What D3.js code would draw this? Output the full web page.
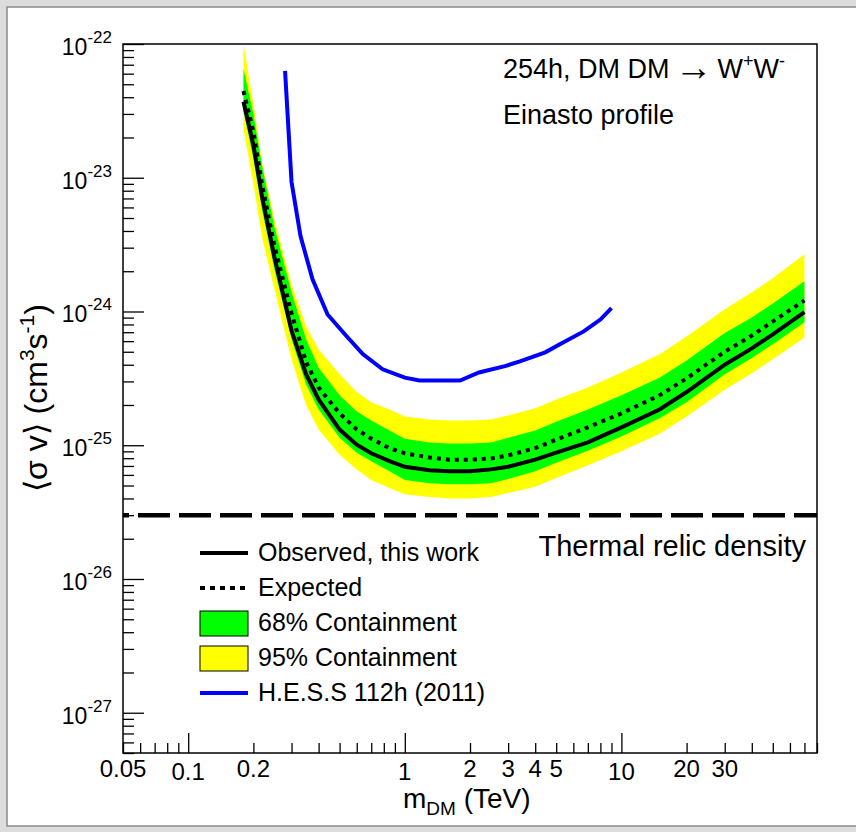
<!DOCTYPE html>
<html>
<head>
<meta charset="utf-8">
<script src="https://cdn.jsdelivr.net/npm/d3@7"></script>
<style>
  html, body { margin: 0; padding: 0; background: #dcdcdc; }
  svg { display: block; }
  text { font-family: "Liberation Sans", Arial, Helvetica, sans-serif; fill: #000; }
</style>
</head>
<body>
<svg id="chart" width="856" height="832"></svg>
<script>
// DM mass grid (TeV) for the limit curves
const mass = [0.18, 0.2, 0.22, 0.25, 0.3, 0.35, 0.4, 0.5, 0.6, 0.7, 0.85, 1, 1.3, 1.6, 2, 2.5, 3, 4, 5, 7, 10, 15, 20, 30, 40, 50, 70];
// observed limit, this work (cm^3 s^-1)
const observed = [3.7e-23, 1.75e-23, 7.0e-24, 2.55e-24, 7.2e-25, 3.4e-25, 2.2e-25, 1.31e-25, 1.01e-25, 8.7e-26, 7.6e-26, 6.9e-26, 6.5e-26, 6.4e-26, 6.4e-26, 6.6e-26, 6.9e-26, 7.8e-26, 8.8e-26, 1.05e-25, 1.36e-25, 1.85e-25, 2.5e-25, 4.0e-25, 5.3e-25, 6.75e-25, 9.9e-25];
const expected = [4.45e-23, 2.2e-23, 8.65e-24, 3.1e-24, 9.7e-25, 4.2e-25, 2.7e-25, 1.73e-25, 1.31e-25, 1.12e-25, 9.5e-26, 8.7e-26, 8.1e-26, 7.8e-26, 7.8e-26, 7.95e-26, 8.4e-26, 9.5e-26, 1.1e-25, 1.36e-25, 1.73e-25, 2.36e-25, 3.16e-25, 5.0e-25, 6.6e-25, 8.4e-25, 1.21e-24];
// 68% containment band
const green68Top = [6.5e-23, 3.0e-23, 1.2e-23, 4.3e-24, 1.39e-24, 6.2e-25, 3.8e-25, 2.36e-25, 1.79e-25, 1.53e-25, 1.29e-25, 1.12e-25, 1.05e-25, 1.03e-25, 1.03e-25, 1.05e-25, 1.14e-25, 1.29e-25, 1.5e-25, 1.85e-25, 2.36e-25, 3.2e-25, 4.3e-25, 6.9e-25, 9.0e-25, 1.15e-24, 1.68e-24];
const green68Bottom = [3.15e-23, 1.38e-23, 5.6e-24, 2.07e-24, 6.2e-25, 2.85e-25, 1.85e-25, 1.14e-25, 8.8e-26, 7.6e-26, 6.4e-26, 5.5e-26, 5.2e-26, 5.1e-26, 5.1e-26, 5.2e-26, 5.6e-26, 6.4e-26, 7.4e-26, 9.1e-26, 1.16e-25, 1.59e-25, 2.1e-25, 3.4e-25, 4.5e-25, 5.7e-25, 8.3e-25];
// 95% containment band
const yellow95Top = [1e-22, 3.56e-23, 1.26e-23, 4.9e-24, 1.6e-24, 7.75e-25, 5.2e-25, 3.4e-25, 2.5e-25, 2.1e-25, 1.85e-25, 1.64e-25, 1.56e-25, 1.53e-25, 1.53e-25, 1.56e-25, 1.67e-25, 1.89e-25, 2.2e-25, 2.7e-25, 3.5e-25, 4.8e-25, 6.5e-25, 1.04e-24, 1.39e-24, 1.77e-24, 2.68e-24];
const yellow95Bottom = [2.3e-23, 9.0e-24, 3.5e-24, 1.47e-24, 4.4e-25, 2.0e-25, 1.31e-25, 8.5e-26, 6.6e-26, 5.5e-26, 4.8e-26, 4.3e-26, 4.1e-26, 4.0e-26, 4.0e-26, 4.1e-26, 4.4e-26, 4.9e-26, 5.7e-26, 7.1e-26, 9.0e-26, 1.22e-25, 1.64e-25, 2.6e-25, 3.45e-25, 4.4e-25, 6.4e-25];
// H.E.S.S 112h (2011)
const hessMass = [0.28, 0.30, 0.33, 0.375, 0.44, 0.54, 0.64, 0.79, 1.0, 1.17, 1.8, 2.2, 2.9, 3.4, 4.45, 5.2, 6.7, 8.0, 9.0];
const hessLimit = [6.3e-23, 9.3e-24, 3.66e-24, 1.74e-24, 9.5e-25, 6.5e-25, 4.8e-25, 3.7e-25, 3.2e-25, 3.05e-25, 3.05e-25, 3.5e-25, 3.9e-25, 4.24e-25, 4.95e-25, 5.7e-25, 7.1e-25, 8.7e-25, 1.06e-24];
const thermalRelic = 3e-26;

const xTickLabels = [0.05, 0.1, 0.2, 1, 2, 3, 4, 5, 10, 20, 30];
const yDecades = [-27, -26, -25, -24, -23, -22];

const svg = d3.select('#chart');
const L = 123, R = 817, T = 44, B = 753;

// canvas panel
svg.append('rect').attr('x', 0).attr('y', 0).attr('width', 856).attr('height', 832).attr('fill', '#dcdcdc');
svg.append('rect').attr('x', 7).attr('y', 7).attr('width', 860).attr('height', 819)
  .attr('fill', '#fff').attr('stroke', '#8a8a8a').attr('stroke-width', 1.5);

const x = d3.scaleLog().domain([0.05, 80]).range([L, R]);
const y = d3.scaleLog().domain([5e-28, 1e-22]).range([B, T]);

svg.append('clipPath').attr('id', 'clip')
  .append('rect').attr('x', L).attr('y', T).attr('width', R - L).attr('height', B - T);
const plot = svg.append('g').attr('clip-path', 'url(#clip)');

const idx = d3.range(mass.length);
const bandArea = (lo, hi) => d3.area().x(i => x(mass[i])).y0(i => y(lo[i])).y1(i => y(hi[i]));

plot.append('path').datum(idx).attr('d', bandArea(yellow95Bottom, yellow95Top)).attr('fill', '#ffff00');
plot.append('path').datum(idx).attr('d', bandArea(green68Bottom, green68Top)).attr('fill', '#00ff00');

// thermal relic line
plot.append('line').attr('x1', L).attr('x2', R).attr('y1', y(thermalRelic)).attr('y2', y(thermalRelic))
  .attr('stroke', '#000').attr('stroke-width', 4.5).attr('stroke-dasharray', '32,9').attr('stroke-dashoffset', 26);

const curve = (xs, ys) => d3.line().x(i => x(xs[i])).y(i => y(ys[i]));

plot.append('path').datum(idx).attr('d', curve(mass, expected))
  .attr('fill', 'none').attr('stroke', '#000').attr('stroke-width', 4).attr('stroke-dasharray', '4,5');
plot.append('path').datum(idx).attr('d', curve(mass, observed))
  .attr('fill', 'none').attr('stroke', '#000').attr('stroke-width', 4);
plot.append('path').datum(d3.range(hessMass.length)).attr('d', curve(hessMass, hessLimit))
  .attr('fill', 'none').attr('stroke', '#0000ff').attr('stroke-width', 4);

// frame
svg.append('rect').attr('x', L).attr('y', T).attr('width', R - L).attr('height', B - T)
  .attr('fill', 'none').attr('stroke', '#000').attr('stroke-width', 1.5);

// x axis ticks
const xMajor = [0.1, 1, 10];
const xMinor = [];
[0.01, 0.1, 1, 10].forEach(d => { for (let k = 2; k <= 9; k++) { const v = d * k; if (v >= 0.05 && v <= 80) xMinor.push(v); } });
const xAxis = d3.axisBottom(x).tickValues(xMinor).tickSize(10).tickFormat('');
const xAxisMaj = d3.axisBottom(x).tickValues(xMajor).tickSize(20).tickFormat('');
[xAxis, xAxisMaj].forEach(a => {
  const g = svg.append('g').attr('transform', `translate(0,${B})`).call(a);
  g.select('.domain').remove();
  g.selectAll('line').attr('y2', d => -(xMajor.includes(d) ? 20 : 10)).attr('stroke', '#000').attr('stroke-width', 1.3);
});
svg.selectAll('.xlab').data(xTickLabels).enter().append('text')
  .attr('x', d => x(d)).attr('y', d => [0.1, 1, 10].includes(d) ? 780 : 777)
  .attr('text-anchor', 'middle').style('font-size', '24px').text(d => d);

// y axis ticks
const yMajor = yDecades.map(e => Math.pow(10, e));
const yMinor = [];
[-28, -27, -26, -25, -24, -23].forEach(e => { for (let k = 2; k <= 9; k++) { const v = k * Math.pow(10, e); if (v >= 5e-28 && v < 1e-22) yMinor.push(v); } });
const yAxisMin = d3.axisLeft(y).tickValues(yMinor).tickFormat('');
const yAxisMaj = d3.axisLeft(y).tickValues(yMajor).tickFormat('');
[[yAxisMin, 11], [yAxisMaj, 21]].forEach(([a, len]) => {
  const g = svg.append('g').attr('transform', `translate(${L},0)`).call(a);
  g.select('.domain').remove();
  g.selectAll('line').attr('x2', len).attr('stroke', '#000').attr('stroke-width', 1.3);
});
const ylab = svg.selectAll('.ylab').data(yDecades).enter().append('text')
  .attr('x', 112).attr('y', e => y(Math.pow(10, e)) + 11).attr('text-anchor', 'end');
ylab.append('tspan').style('font-size', '23px').text('10');
ylab.append('tspan').style('font-size', '17px').attr('dy', -12).text(e => e);

// axis titles
const xt = svg.append('text').attr('x', 403).attr('y', 808).style('font-size', '28px');
xt.append('tspan').text('m');
xt.append('tspan').style('font-size', '19px').attr('dy', 7).text('DM');
xt.append('tspan').attr('dy', -7).text(' (TeV)');

const yt = svg.append('text').attr('transform', 'translate(47,398) rotate(-90)')
  .attr('text-anchor', 'middle').style('font-size', '32px');
yt.append('tspan').text('\u27E8\u03C3 v\u27E9  (cm');
yt.append('tspan').style('font-size', '21px').attr('dy', -13).text('3');
yt.append('tspan').attr('dy', 13).text('s');
yt.append('tspan').style('font-size', '21px').attr('dy', -13).text('-1');
yt.append('tspan').attr('dy', 13).text(')');

// annotations
const t1 = svg.append('text').attr('x', 503).attr('y', 78).style('font-size', '27px');
t1.append('tspan').text('254h, DM DM');
t1.append('tspan').attr('dx', 5).style('font-size', '38px').attr('dy', 2).text('\u2192');
t1.append('tspan').attr('dx', 5).attr('dy', -2).text('W');
t1.append('tspan').style('font-size', '18px').attr('dy', -11).text('+');
t1.append('tspan').attr('dy', 11).text('W');
t1.append('tspan').style('font-size', '18px').attr('dy', -11).text('-');
svg.append('text').attr('x', 503).attr('y', 124).style('font-size', '27px').text('Einasto profile');
svg.append('text').attr('x', 806).attr('y', 556).attr('text-anchor', 'end').style('font-size', '29px').text('Thermal relic density');

// legend
const legendItems = [
  { label: 'Observed, this work', kind: 'line', color: '#000' },
  { label: 'Expected', kind: 'dots', color: '#000' },
  { label: '68% Containment', kind: 'box', color: '#00ff00' },
  { label: '95% Containment', kind: 'box', color: '#ffff00' },
  { label: 'H.E.S.S 112h (2011)', kind: 'line', color: '#0000ff' }
];
const lg = svg.append('g');
legendItems.forEach((d, i) => {
  const cy = 553 + i * 35;
  if (d.kind === 'box') {
    lg.append('rect').attr('x', 200).attr('y', cy - 12).attr('width', 48).attr('height', 25)
      .attr('fill', d.color).attr('stroke', '#000').attr('stroke-width', 1);
  } else {
    lg.append('line').attr('x1', 200).attr('x2', 248).attr('y1', cy).attr('y2', cy)
      .attr('stroke', d.color).attr('stroke-width', 4)
      .attr('stroke-dasharray', d.kind === 'dots' ? '5,5' : null);
  }
  lg.append('text').attr('x', 258).attr('y', cy + 8).style('font-size', '25px').text(d.label);
});
</script>
</body>
</html>
